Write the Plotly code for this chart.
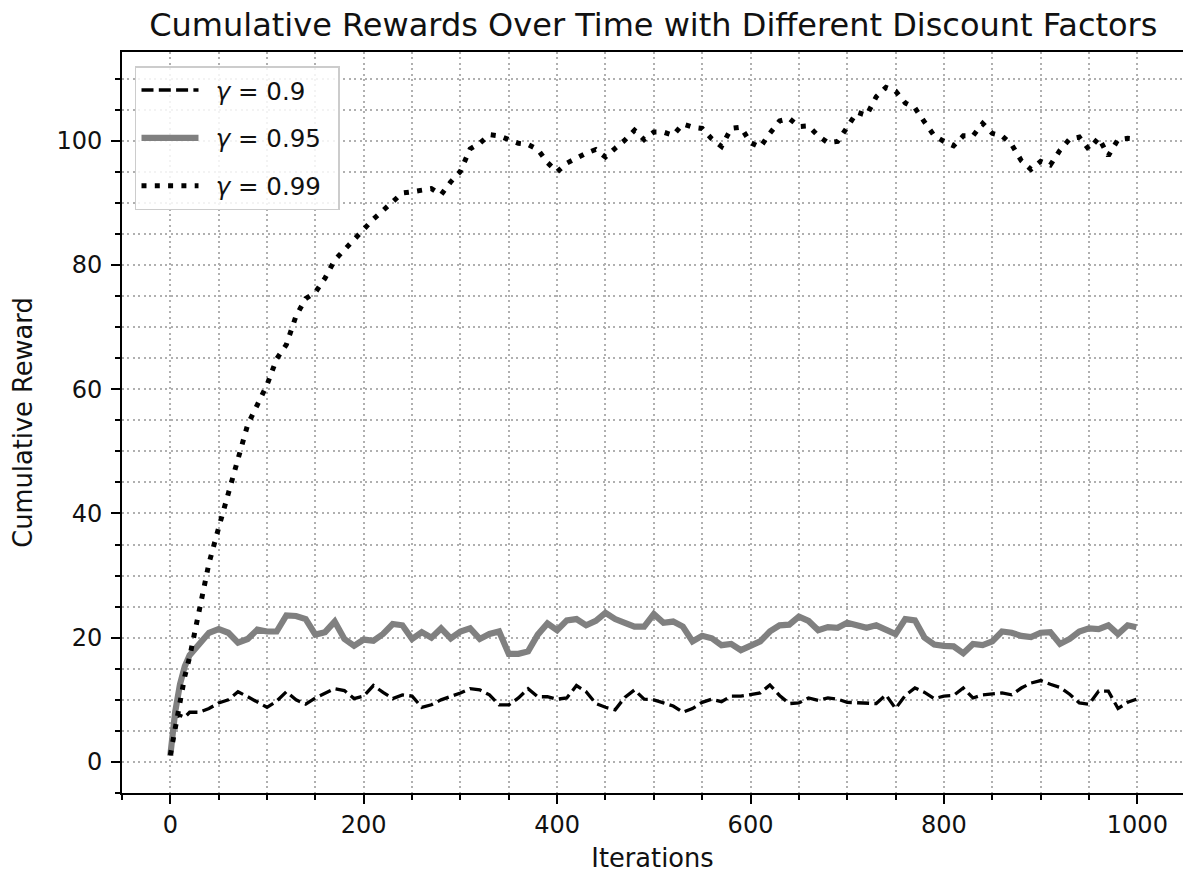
import plotly.graph_objects as go

iters = [0, 5, 10, 15] + list(range(20, 1000, 10)) + [999]

labels = ["\u2002<i>γ</i> = 0.9\u2002", "\u2002<i>γ</i> = 0.95\u2002", "\u2002<i>γ</i> = 0.99\u2002"]

g90 = [1.0, 7.2, 7.5, 7.2,
       8.0, 8.0, 8.6, 9.5, 10.0, 11.3, 10.5, 9.6, 8.8, 9.8,
       11.3, 10.0, 9.3, 10.3, 11.0, 11.8, 11.5, 10.2, 10.6, 12.3,
       11.2, 10.2, 10.8, 10.6, 8.8, 9.2, 10.0, 10.5, 11.1, 11.8,
       11.6, 10.8, 9.2, 9.2, 10.3, 11.8, 10.5, 10.5, 10.1, 10.3,
       12.3, 11.3, 9.4, 8.8, 8.4, 10.4, 11.6, 10.1, 10.0, 9.5,
       9.0, 8.0, 8.6, 9.6, 10.1, 9.7, 10.6, 10.6, 10.9, 11.1,
       12.4, 10.7, 9.4, 9.5, 10.3, 9.9, 10.3, 10.1, 9.6, 9.5,
       9.4, 9.4, 10.8, 8.6, 10.7, 11.9, 11.2, 10.2, 10.6, 10.7,
       11.9, 10.3, 10.8, 11.0, 11.1, 10.8, 11.9, 12.7, 13.1, 12.5,
       12.0, 10.9, 9.5, 9.3, 11.4, 11.4, 8.6, 9.6,
       10.1]

g95 = [1.0, 8.0, 12.5, 15.4,
       17.2, 19.2, 20.8, 21.4, 20.8, 19.2, 19.8, 21.3, 21.0, 21.0,
       23.6, 23.5, 23.0, 20.5, 20.9, 22.6, 19.8, 18.7, 19.7, 19.5,
       20.6, 22.2, 22.0, 19.8, 20.9, 20.0, 21.5, 19.9, 21.0, 21.5,
       19.8, 20.6, 21.0, 17.4, 17.4, 17.8, 20.5, 22.3, 21.2, 22.8,
       23.0, 22.0, 22.7, 24.0, 23.0, 22.4, 21.8, 21.8, 23.8, 22.4,
       22.6, 21.8, 19.4, 20.3, 19.9, 18.8, 19.0, 18.0, 18.6, 19.4,
       21.0, 22.0, 22.1, 23.4, 22.7, 21.2, 21.7, 21.6, 22.4, 22.1,
       21.6, 22.0, 21.4, 20.6, 23.0, 22.8, 20.0, 18.9, 18.7, 18.6,
       17.5, 19.0, 18.8, 19.4, 21.0, 20.8, 20.3, 20.1, 20.8, 20.9,
       19.0, 19.8, 21.0, 21.5, 21.4, 22.0, 20.6, 22.0,
       21.7]

g99 = [1.1, 5.5, 9.5, 13.8,
       16.9, 24.7, 32.0, 37.7, 43.2, 48.2, 54.3, 57.5, 60.7, 64.9,
       67.2, 71.8, 74.6, 75.6, 77.9, 80.8, 82.5, 84.0, 85.8, 87.4,
       88.8, 90.1, 91.6, 91.8, 92.0, 92.3, 91.3, 93.4, 95.1, 98.7,
       99.6, 101.0, 100.8, 100.2, 99.6, 99.4, 98.6, 96.5, 95.0, 96.4,
       97.3, 98.0, 98.6, 97.4, 98.8, 100.1, 101.7, 100.2, 101.4, 101.4,
       100.9, 102.7, 102.2, 102.0, 100.3, 99.1, 102.0, 102.2, 99.7, 99.0,
       101.2, 103.2, 103.6, 102.3, 102.4, 100.8, 99.7, 99.9, 102.2, 104.6,
       104.1, 107.1, 108.6, 108.0, 106.1, 105.3, 103.0, 100.8, 99.9, 99.2,
       100.8, 100.8, 102.8, 101.2, 100.8, 99.4, 96.8, 95.4, 96.7, 96.1,
       98.5, 100.3, 100.6, 98.6, 100.5, 97.6, 100.2, 100.4,
       100.3]

assert len(iters) == len(g90) == len(g95) == len(g99)

FONT = "DejaVu Sans"
GRID = "#b0b0b0"

fig = go.Figure()
fig.add_trace(go.Scatter(x=iters, y=g90, mode="lines", name=labels[0], legendgroup="a",
                         line=dict(color="black", width=3.3, dash="12px,5.3px")))
fig.add_trace(go.Scatter(x=iters, y=g95, mode="lines", name=labels[1], legendgroup="b",
                         line=dict(color="#808080", width=6.2)))
fig.add_trace(go.Scatter(x=iters, y=g99, mode="lines", name=labels[2], legendgroup="c",
                         line=dict(color="black", width=5, dash="5px,8.3px")))

axis_common = dict(
    showline=True, linecolor="black", linewidth=2,
    ticks="outside", ticklen=9, tickwidth=2, tickcolor="black",
    showgrid=True, gridcolor=GRID, gridwidth=1.5, griddash="2px,3.4px",
    zeroline=False,
    tickfont=dict(family=FONT, size=24, color="#111"),
)

fig.update_layout(
    width=1183, height=873,
    margin=dict(l=122, r=0, t=52, b=80, pad=0),
    paper_bgcolor="white", plot_bgcolor="white",
    font=dict(family=FONT, color="#111"),
    title=dict(text="Cumulative Rewards Over Time with Different Discount Factors",
               font=dict(family=FONT, size=32, color="#111"),
               x=0.5008, xref="paper", xanchor="center",
               y=1 - 25 / 873, yref="container", yanchor="middle"),
    xaxis=dict(range=[-49.95, 1047.2], tick0=0, dtick=200, mirror=True,
               title=dict(text="Iterations", font=dict(family=FONT, size=25.7, color="#111"),
                          standoff=11),
               minor=dict(tick0=0, dtick=50, ticks="outside", ticklen=5, tickwidth=1.5,
                          tickcolor="black", showgrid=True, gridcolor=GRID,
                          gridwidth=1.5, griddash="2px,3.4px"),
               automargin=False, **axis_common),
    yaxis=dict(range=[-5.0, 114.3], tick0=0, dtick=20, mirror=False,
               ticklabelstandoff=4,
               title=dict(text="Cumulative Reward", font=dict(family=FONT, size=25.7, color="#111"),
                          standoff=16),
               minor=dict(tick0=0, dtick=5, ticks="outside", ticklen=5, tickwidth=1.5,
                          tickcolor="black", showgrid=True, gridcolor=GRID,
                          gridwidth=1.5, griddash="2px,3.4px"),
               automargin=False, **axis_common),
    legend=dict(x=0.01225, y=0.981, xanchor="left", yanchor="top",
                bgcolor="rgba(255,255,255,0.85)", bordercolor="#cccccc", borderwidth=1.5,
                font=dict(family=FONT, size=24.5, color="#111"),
                itemwidth=57, tracegroupgap=13),
    showlegend=True,
)

fig.write_html("out.html")
